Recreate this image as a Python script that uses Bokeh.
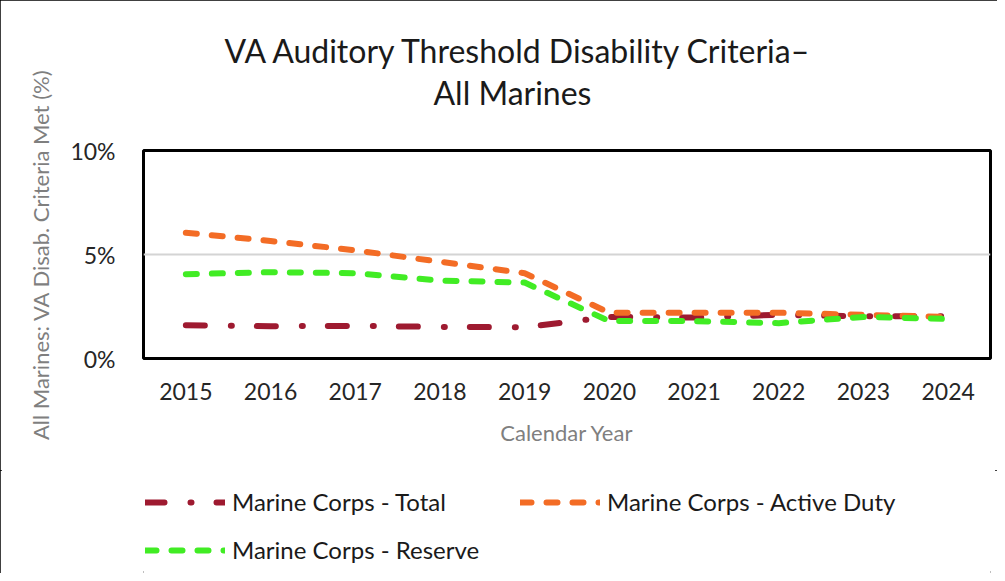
from bokeh.plotting import figure
from bokeh.layouts import column
from bokeh.models import (FactorRange, Range1d, FixedTicker, PrintfTickFormatter,
                          Legend, LegendItem, Title)
from bokeh.embed import file_html
from bokeh.resources import INLINE

years = ["2015", "2016", "2017", "2018", "2019", "2020", "2021", "2022", "2023", "2024"]
total = [1.6, 1.55, 1.57, 1.52, 1.5, 2.0, 1.97, 2.1, 2.03, 2.03]
active = [6.05, 5.65, 5.2, 4.65, 4.1, 2.2, 2.2, 2.2, 2.1, 2.0]
reserve = [4.05, 4.15, 4.1, 3.75, 3.65, 1.8, 1.8, 1.7, 2.0, 1.9]
y_ticks = [0, 5, 10]

title_lines = ["VA Auditory Threshold Disability Criteria\u2013", "All Marines"]
x_title = "Calendar Year"
y_title = "All Marines: VA Disab. Criteria Met (%)"
names = ["Marine Corps - Total", "Marine Corps - Active Duty", "Marine Corps - Reserve"]

FONT = "Lato"
styles = {
    "total": dict(line_color="#9E1A30", line_width=6, line_dash="19 26 1 25",
                  line_cap="round", line_join="round"),
    "active": dict(line_color="#F36C25", line_width=6, line_dash="11 15",
                   line_cap="round", line_join="round"),
    "reserve": dict(line_color="#41EC24", line_width=6, line_dash="11 15",
                    line_cap="round", line_join="round"),
}

# ---------------- main chart ----------------
p = figure(width=997, height=470, x_range=FactorRange(*years), y_range=Range1d(0, 10),
           output_backend="svg", toolbar_location=None,
           min_border_left=143, min_border_right=7, min_border_top=150, min_border_bottom=112)

p.outline_line_color = "black"
p.outline_line_width = 3
p.outline_line_alpha = 1

p.xgrid.visible = False
p.ygrid.ticker = FixedTicker(ticks=[5])
p.ygrid.grid_line_color = "#d4d4d4"
p.ygrid.grid_line_width = 2

for ax in (p.xaxis[0], p.yaxis[0]):
    ax.axis_line_color = None
    ax.major_tick_line_color = None
    ax.minor_tick_line_color = None
    ax.major_label_text_font = FONT
    ax.major_label_text_font_size = "23px"
    ax.major_label_text_color = "#262626"

p.yaxis.ticker = FixedTicker(ticks=y_ticks)
p.yaxis.formatter = PrintfTickFormatter(format="%d%%")
p.yaxis.major_label_standoff = 22

p.xaxis.major_label_standoff = 18
p.xaxis.axis_label = x_title
p.xaxis.axis_label_text_font = FONT
p.xaxis.axis_label_text_font_style = "normal"
p.xaxis.axis_label_text_color = "#7f7f7f"
p.xaxis.axis_label_text_font_size = "22px"
p.xaxis.axis_label_standoff = 16

p.add_layout(Title(text=y_title, align="center", vertical_align="middle", standoff=26,
                   text_font=FONT, text_font_size="22px", text_font_style="normal",
                   text_color="#7f7f7f"), "left")

p.line(years, total, **styles["total"])
p.line(years, active, **styles["active"])
p.line(years, reserve, **styles["reserve"])

p.title.text = title_lines[0]
p.title.align = "left"
p.title.offset = 81
p.title.text_font = FONT
p.title.text_font_size = "32px"
p.title.text_font_style = "normal"
p.title.text_color = "#1a1a1a"
p.title.standoff = 0
# spacer between second title line and the plot box
p.add_layout(Title(text=" ", text_font_size="26px", standoff=6), "above")
p.add_layout(Title(text=title_lines[1], align="left", offset=290, text_font=FONT,
                   text_font_size="32px", text_font_style="normal", text_color="#1a1a1a",
                   standoff=2), "above")

# ---------------- legend strip ----------------
q = figure(width=997, height=103, x_range=FactorRange(*years), y_range=Range1d(100, 101),
           output_backend="svg", toolbar_location=None, title=None,
           x_axis_type=None, y_axis_type=None,
           min_border_left=143, min_border_right=7, min_border_top=0, min_border_bottom=0)
q.grid.visible = False
q.outline_line_color = None
l_total = q.line(years, total, **styles["total"])
l_active = q.line(years, active, **styles["active"])
l_reserve = q.line(years, reserve, **styles["reserve"])

leg_style = dict(orientation="horizontal",
                 glyph_width=80, glyph_height=24, label_height=24, label_width=264,
                 label_standoff=7, spacing=24, padding=0, margin=0,
                 border_line_alpha=0, background_fill_alpha=0,
                 label_text_font=FONT, label_text_font_size="24px", label_text_color="#1a1a1a")
q.add_layout(Legend(items=[LegendItem(label=names[0], renderers=[l_total]),
                           LegendItem(label=names[1], renderers=[l_active])],
                    location=(2, 57), **leg_style), "center")
q.add_layout(Legend(items=[LegendItem(label=names[2], renderers=[l_reserve])],
                    location=(2, 9), **leg_style), "center")

lay = column(p, q, spacing=0, width=997, height=573, sizing_mode="fixed")
lay.styles = {"outline": "2px solid black", "outline-offset": "-2px"}

open("out.html", "w").write(file_html(lay, INLINE))
